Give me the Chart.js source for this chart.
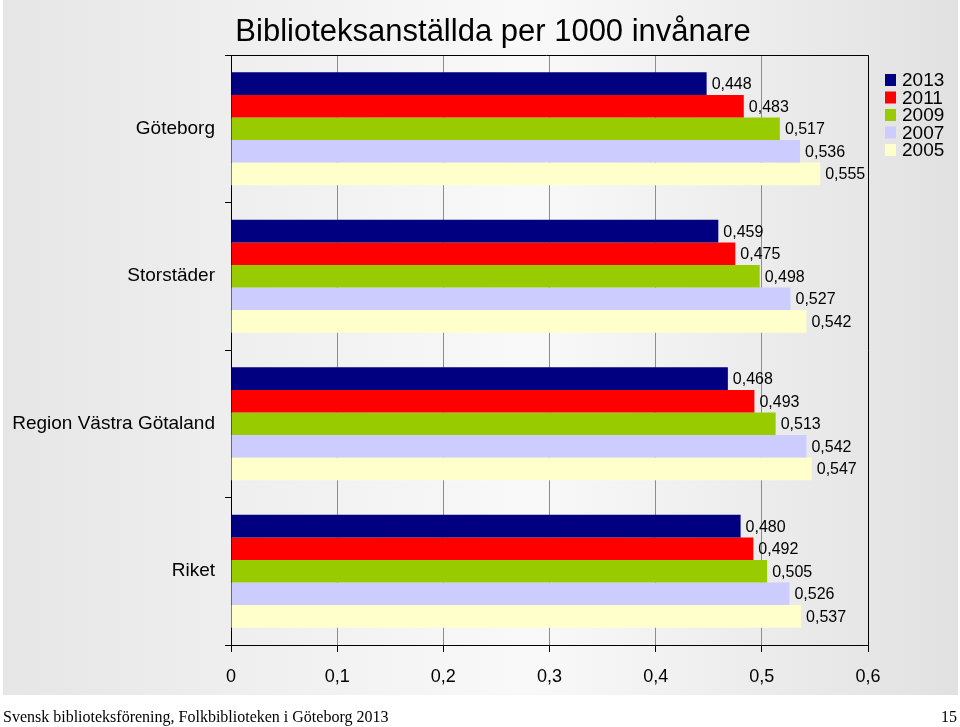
<!DOCTYPE html>
<html>
<head>
<meta charset="utf-8">
<script src="https://cdn.jsdelivr.net/npm/chart.js@4/dist/chart.umd.min.js"></script>
<style>
  html, body { margin: 0; padding: 0; background: #fff; }
  canvas { display: block; }
</style>
</head>
<body>
<canvas id="bibChart" width="960" height="727"></canvas>
<script>
// data
var categories = ['Göteborg', 'Storstäder', 'Region Västra Götaland', 'Riket'];
var years = ['2013', '2011', '2009', '2007', '2005'];
var values2013 = [0.448, 0.459, 0.468, 0.480];
var values2011 = [0.483, 0.475, 0.493, 0.492];
var values2009 = [0.517, 0.498, 0.513, 0.505];
var values2007 = [0.536, 0.527, 0.542, 0.526];
var values2005 = [0.555, 0.542, 0.547, 0.537];
var xTicks = [0, 0.1, 0.2, 0.3, 0.4, 0.5, 0.6];
var colors = ['#000080', '#ff0000', '#99cc00', '#ccccff', '#ffffcc'];

var titleText = 'Biblioteksanställda per 1000 invånare';
var footerText = 'Svensk biblioteksförening, Folkbiblioteken i Göteborg 2013';
var pageNumber = '15';

var sans = '"Liberation Sans", Arial, sans-serif';
var serif = '"Liberation Serif", "Times New Roman", serif';

function fmt(v) {
    return v.toFixed(3).replace('.', ',');
}

var seriesValues = [values2013, values2011, values2009, values2007, values2005];
var datasets = years.map(function (y, i) {
    return {
        label: y,
        data: seriesValues[i],
        backgroundColor: colors[i],
        borderWidth: 0,
        categoryPercentage: 0.765,
        barPercentage: 1.0
    };
});

var slidePlugin = {
    id: 'slide',
    beforeDraw: function (chart) {
        var c = chart.ctx;
        c.save();
        c.fillStyle = '#ffffff';
        c.fillRect(0, 0, chart.width, chart.height);
        var g = c.createLinearGradient(3, 0, 958, 0);
        g.addColorStop(0, '#e6e6e6');
        g.addColorStop(0.55, '#f9f9f9');
        g.addColorStop(1, '#e1e1e1');
        c.fillStyle = g;
        c.fillRect(3, 0, 955, 695);
        c.restore();
    },
    afterDatasetsDraw: function (chart) {
        var c = chart.ctx;
        var area = chart.chartArea;
        c.save();

        // value labels
        c.font = '16px ' + sans;
        c.fillStyle = '#000';
        c.textAlign = 'left';
        c.textBaseline = 'middle';
        chart.data.datasets.forEach(function (ds, i) {
            chart.getDatasetMeta(i).data.forEach(function (bar, j) {
                c.fillText(fmt(ds.data[j]), bar.x + 5, bar.y + 1);
            });
        });

        // top and right frame
        c.strokeStyle = '#000';
        c.lineWidth = 1;
        c.beginPath();
        c.moveTo(area.left - 6, area.top + 0.5);
        c.lineTo(area.right + 0.5, area.top + 0.5);
        c.lineTo(area.right + 0.5, area.bottom);
        c.stroke();

        // legend
        c.font = '19px ' + sans;
        c.textBaseline = 'middle';
        years.forEach(function (y, i) {
            var cy = 80 + i * 17.5;
            c.fillStyle = colors[i];
            c.fillRect(885, cy - 6, 11, 12);
            c.fillStyle = '#000';
            c.fillText(y, 902, cy + 1);
        });

        // title
        c.font = '31px ' + sans;
        c.textAlign = 'center';
        c.textBaseline = 'alphabetic';
        c.fillText(titleText, 493, 41);

        // footer
        c.font = '16px ' + serif;
        c.textAlign = 'left';
        c.fillText(footerText, 3, 722);
        c.textAlign = 'right';
        c.fillText(pageNumber, 957, 722);
        c.restore();
    }
};

var ctx = document.getElementById('bibChart').getContext('2d');
var bibChart = new Chart(ctx, {
    type: 'bar',
    data: {
        labels: categories,
        datasets: datasets
    },
    plugins: [slidePlugin],
    options: {
        indexAxis: 'y',
        responsive: false,
        animation: false,
        layout: {
            padding: { top: 55, left: 0, right: 92, bottom: 0 }
        },
        plugins: {
            legend: { display: false },
            title: { display: false },
            tooltip: { enabled: false }
        },
        scales: {
            x: {
                type: 'linear',
                min: 0,
                max: 0.6,
                afterFit: function (scale) { scale.height = 82; },
                afterBuildTicks: function (scale) {
                    scale.ticks = xTicks.map(function (v) { return { value: v }; });
                },
                ticks: {
                    color: '#000',
                    padding: 14,
                    font: { size: 18, family: sans },
                    callback: function (v) { return String(v).replace('.', ','); }
                },
                grid: {
                    color: '#8c8c8c',
                    lineWidth: 1,
                    tickColor: '#000',
                    tickLength: 7
                },
                border: { display: true, color: '#000', width: 1 }
            },
            y: {
                afterFit: function (scale) { scale.width = 231; },
                ticks: {
                    color: '#000',
                    padding: 10,
                    font: { size: 19, family: sans }
                },
                grid: {
                    offset: true,
                    drawOnChartArea: false,
                    tickColor: '#000',
                    tickLength: 6
                },
                border: { display: true, color: '#000', width: 1 }
            }
        }
    }
});
</script>
</body>
</html>
